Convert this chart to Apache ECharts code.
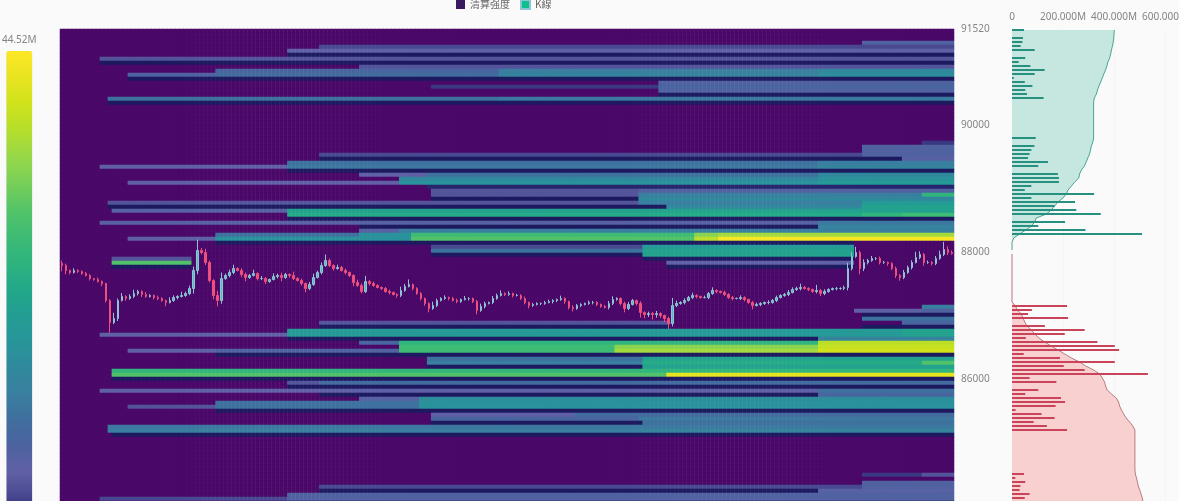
<!DOCTYPE html>
<html><head><meta charset="utf-8">
<style>html,body{margin:0;padding:0;background:#fafafa}#c{width:1179px;height:501px}</style>
<script src="https://cdn.jsdelivr.net/npm/echarts@6/dist/echarts.min.js"></script>
</head><body><div id="c"></div>
<script>
const closes=[87795,87717,87685,87717,87701,87669,87638,87590,87575,87543,
87512,87244,86898,86961,87244,87307,87276,87307,87354,87386,
87339,87307,87323,87291,87276,87244,87213,87244,87291,87307,
87323,87354,87433,87717,88032,88000,87843,87559,87323,87244,
87590,87638,87685,87748,87717,87654,87606,87638,87669,87590,
87590,87543,87575,87622,87638,87606,87654,87638,87590,87559,
87512,87433,87496,87606,87685,87795,87874,87795,87748,87764,
87717,87685,87638,87528,87480,87386,87543,87512,87480,87449,
87433,87386,87370,87339,87323,87402,87465,87496,87433,87354,
87276,87197,87118,87165,87244,87276,87291,87276,87244,87228,
87260,87276,87276,87228,87087,87150,87197,87213,87276,87323,
87354,87339,87354,87323,87323,87276,87213,87165,87181,87197,
87197,87213,87228,87244,87260,87276,87228,87134,87118,87165,
87181,87197,87213,87213,87181,87150,87134,87197,87260,87276,
87197,87118,87181,87244,87197,87055,87024,87039,87024,87039,
87008,86961,86882,87165,87197,87213,87244,87291,87323,87307,
87291,87291,87354,87402,87386,87370,87339,87291,87276,87276,
87291,87260,87213,87165,87181,87197,87213,87213,87244,87291,
87323,87339,87370,87417,87433,87449,87433,87417,87386,87402,
87354,87386,87417,87433,87433,87433,87449,87748,87937,88000,
87748,87843,87874,87906,87906,87843,87843,87827,87748,87638,
87606,87685,87764,87843,87921,87969,87843,87843,87827,87906,
87969,88047,88000,87985];
const firstOpen=87830;
const wickUp=[40,30,15,35,20,15,25,20,10,30,
15,10,20,90,30,55,20,35,60,25,
15,40,20,15,30,20,15,50,35,20,
60,30,45,60,170,40,60,30,20,75,
95,30,45,60,20,35,30,25,60,20,
40,25,15,50,30,45,25,20,60,25,
30,15,40,60,30,50,95,30,20,45,
25,30,15,20,45,35,90,25,30,20,
15,25,30,15,20,60,40,80,15,20,
25,15,20,60,30,20,35,15,25,30,
15,40,20,15,25,45,30,15,40,30,
50,20,35,15,25,20,30,15,25,20,
15,25,30,20,15,45,20,15,35,25,
20,15,30,25,20,15,25,40,50,20,
15,30,40,25,15,35,20,30,25,40,
20,15,30,120,45,20,35,25,45,20,
15,30,25,50,20,15,30,20,25,15,
35,20,15,25,30,20,15,35,25,30,
20,25,40,35,30,60,25,20,15,90,
25,35,20,15,25,20,30,90,70,90,
30,50,25,40,20,30,25,15,20,30,
20,40,30,35,90,50,25,30,20,40,
60,120,50,30];
const wickDown=[90,60,30,15,25,20,15,30,20,15,
40,30,160,25,40,15,35,20,25,30,
40,20,15,30,25,20,60,15,20,30,
15,20,25,80,60,30,40,30,60,90,
50,20,30,25,15,40,60,20,15,30,
25,40,20,15,30,60,20,35,25,15,
30,60,25,20,15,30,20,25,35,20,
15,30,25,60,20,30,25,35,20,15,
25,20,30,15,35,25,20,15,30,20,
30,35,60,20,25,15,20,30,15,25,
20,15,30,25,60,20,30,15,25,20,
15,25,20,30,15,25,30,45,20,15,
25,20,15,30,25,20,35,30,45,20,
25,15,20,30,25,20,15,30,25,20,
30,60,25,15,30,80,60,40,80,50,
40,60,90,45,25,20,30,15,25,30,
20,15,25,20,30,15,25,20,30,15,
25,30,20,60,15,25,20,30,20,25,
15,20,25,15,20,30,15,25,20,30,
40,25,20,15,30,20,25,45,30,20,
90,40,30,20,25,30,20,35,25,40,
50,25,20,30,15,25,50,20,30,25,
20,25,40,20];
const heatBands=[
[3,[201,9]],[4,[65,5]],[5,[57,7]],[6,[57,2.3]],[7,[10,6]],[8,[10,2.3]],[9,[75,6]],
[10,[39,10,110,14,190,16]],[11,[17,9,39,11,110,15,190,17]],[12,[17,2.3]],
[13,[150,9]],[14,[93,4,150,10]],[15,[150,9]],[16,[150,2.3]],[17,[12,12,110,13]],[18,[12,2.3]],
[28,[216,4]],[29,[201,9]],[30,[201,9]],[31,[65,5,201,9]],[32,[65,2.3,211,8]],
[33,[57,12,190,14]],[34,[10,7,57,13,190,15]],[35,[57,2.3]],[36,[75,7,92,12,190,16]],
[37,[85,16,190,18]],[38,[17,7,85,18,190,20]],[39,[92,3]],[40,[93,6,145,9]],
[41,[93,6,145,14,216,26]],[42,[93,2.3,145,16]],[43,[12,6,145,14,201,20]],
[44,[12,2.3,152,16,201,22]],[45,[13,8,57,22]],[46,[57,24,201,26,211,28]],[47,[57,2.3]],
[48,[10,8,190,13]],[49,[75,2.3,190,15]],[50,[75,8,85,14]],
[51,[39,12,75,18,88,28,159,34,165,36]],[52,[17,7,39,18,88,30,159,38,165,44]],
[53,[39,2.3,199,0]],[54,[93,5,146,20,199,0]],[55,[93,12,146,22,199,0]],[56,[93,2.3,146,22,199,0]],
[57,[13,6,33,0,146,2.3,199,0]],[58,[13,30,33,0,152,7,199,0]],[59,[13,2.3,33,0,152,2.3,199,0]],
[69,[216,14]],[70,[199,7,216,9]],[71,[201,2.3]],[72,[201,12]],[73,[65,6,153,0,211,10]],[74,[65,2.3,153,0,201,2.3]],
[75,[57,20,211,22]],[76,[10,7,57,20,211,22]],[77,[57,2.3,190,15]],[78,[75,10,85,26,190,38]],
[79,[85,28,139,34,190,39]],[80,[17,7,39,9,85,28,139,36,190,40]],[81,[39,2.3]],
[82,[92,12,146,22]],[83,[92,14,146,24,216,30]],[84,[92,2.3,146,22]],[85,[13,26]],[86,[13,30,152,42]],[87,[13,2.3]],
[88,[57,6,65,11]],[89,[57,2.3]],[90,[10,7,190,12]],[91,[65,2.3,190,10]],[92,[75,8,90,17]],
[93,[39,12,90,18]],[94,[17,6,39,12,90,18]],[95,[39,2.3]],[96,[93,7,129,11]],[97,[93,10,145,13]],
[98,[93,2.3,146,12]],[99,[12,13]],[100,[12,14,145,15]],[101,[13,2.3]],
[111,[201,4,216,6]],[113,[201,9]],[114,[65,5,201,9]],[115,[65,2.3,190,8]],[116,[57,9]],[117,[10,5,57,9]],[118,[57,2.3]]];
const greenBars=[47,null,43,41,34,89,null,52,26,72,128,89,7,50,80,52,59,124,null,null,null,null,null,null,null,null,null,93,null,88,76,69,63,141,103,null,180,184,184,76,50,322,76,247,167,252,348,null,208,103,288,510];
const greenLine=[401,400,399,397,394,390,387,383,376,372,367,360,354,348,341,335,331,323,320,320,320,320,320,320,320,320,320,320,317,311,308,304,297,291,284,272,265,262,246,233,220,213,200,180,167,154,135,95,89,76,54,30,7,0,0,0];
const redBarRows=[69,70,71,72,74,75,76,77,78,79,80,81,82,83,84,85,86,87,88,90,91,92,93,94,95,96,97,98,99,100,111,112,113,114,115,116,117];
const redBarValues=[216,78,63,220,129,285,207,54,335,403,420,46,188,403,203,285,533,69,174,103,52,192,208,171,14,116,167,85,137,216,47,13,52,33,30,69,50];
const redLineStart=56;
const redLine=[0,0,0,0,0,0,0,0,0,0,0,0,0,14,20,37,43,50,59,76,89,106,128,154,180,207,233,265,289,320,344,354,363,367,373,390,409,418,422,429,438,448,461,474,482,482,482,482,482,482,482,482,482,482,482,484,488,492,495,501,506,511,514];
const yTicks=[91520,90000,88000,86000];
const xTicks=[0,200,400,600];
const colorScale=['#4a0868','#1c1a60','#45458e','#6060a6','#4d629f','#3f6f9e','#3a7fa0','#2f8a9c','#28959a','#239e92','#22a888','#2fb47e','#3fbc74','#55c468','#78cf58','#98d848','#b5de2b','#cfe21c','#e8e420','#fde725'];
const maxValue=44.52, rowCount=119, colCount=closes.length;

const rows=[...Array(rowCount).keys()].map(String);
const cols=closes.map((_,i)=>String(i));
const cell=[...Array(rowCount)].map(()=>new Array(colCount).fill(0));
heatBands.forEach(([r,seg])=>{for(let k=0;k<seg.length;k+=2){const end=k+2<seg.length?seg[k+2]:colCount;for(let c=seg[k];c<end;c++)cell[r][c]=seg[k+1];}});
const heat=[];cell.forEach((row,r)=>row.forEach((v,c)=>heat.push([c,r,v])));
const candles=closes.map((c,i)=>{const o=i?closes[i-1]:firstOpen;return [o,c,Math.min(o,c)-wickDown[i],Math.max(o,c)+wickUp[i]];});
const gb=new Array(rowCount).fill(null),gl=new Array(rowCount).fill(null),rb=new Array(rowCount).fill(null),rl=new Array(rowCount).fill(null);
greenBars.forEach((v,i)=>gb[i]=v);greenLine.forEach((v,i)=>gl[i]=v);
redBarRows.forEach((r,i)=>rb[r]=redBarValues[i]);redLine.forEach((v,i)=>rl[redLineStart+i]=v);

const fmt=v=>v===0?'0':v.toFixed(3)+'M';
const labelColor='#858585', font='"Noto Sans",sans-serif';
const chart=echarts.init(document.getElementById('c'),null,{renderer:'canvas'});
chart.setOption({
 animation:false,backgroundColor:'#fafafa',
 legend:{top:-6,left:451,itemWidth:9,itemHeight:9,itemGap:10,icon:'rect',
  textStyle:{color:'#666',fontSize:10,fontFamily:'"Noto Sans CJK SC",sans-serif'},
  data:[{name:'清算强度',itemStyle:{color:'#3a1a60'}},{name:'K線',itemStyle:{color:'#0fc08f'}}]},
 grid:[{left:60,top:29,width:894,height:476,outerBoundsMode:'none'},{left:1012,top:28,width:153,height:476,outerBoundsMode:'none'}],
 visualMap:{type:'continuous',min:0,max:maxValue,seriesIndex:0,left:-13,top:20,itemWidth:26,itemHeight:500,
  calculable:false,text:['44.52M',''],textGap:6,textStyle:{color:labelColor,fontSize:10,fontFamily:font},
  inRange:{color:colorScale}},
 xAxis:[
  {type:'category',gridIndex:0,data:cols,show:false},
  {type:'value',gridIndex:1,position:'top',min:0,max:600,interval:200,
   axisLine:{show:false},axisTick:{show:false},splitLine:{show:true,lineStyle:{color:'#f5f5f5'}},
   axisLabel:{margin:6,color:labelColor,fontSize:10,fontFamily:font,customValues:xTicks,hideOverlap:false,formatter:fmt}}
 ],
 yAxis:[
  {type:'category',gridIndex:0,data:rows,inverse:true,show:false},
  {type:'value',gridIndex:0,position:'right',min:84024,max:91520,
   axisLine:{show:false},axisTick:{show:false},splitLine:{show:false},
   axisLabel:{margin:7,color:labelColor,fontSize:10,fontFamily:font,customValues:yTicks,showMinLabel:true,showMaxLabel:true,formatter:v=>String(v)}},
  {type:'category',gridIndex:1,data:rows,inverse:true,show:false}
 ],
 series:[
  {name:'清算强度',type:'heatmap',xAxisIndex:0,yAxisIndex:0,data:heat,progressive:0,z:1,emphasis:{disabled:true}},
  {name:'K線',type:'candlestick',xAxisIndex:0,yAxisIndex:1,data:candles,barWidth:2,z:3,
   itemStyle:{color:'#56bcc0',color0:'#ee4f7c',borderColor:'#8fc4d4',borderColor0:'#ee4f7c',borderWidth:1}},
  {type:'line',xAxisIndex:1,yAxisIndex:2,data:gl.map((v,i)=>[v,i]),showSymbol:false,z:2,
   lineStyle:{color:'#4aa596',width:1},areaStyle:{color:'#c6e7df',opacity:1}},
  {type:'line',xAxisIndex:1,yAxisIndex:2,data:rl.map((v,i)=>[v,i]),showSymbol:false,z:2,
   lineStyle:{color:'#b87c80',width:1},areaStyle:{color:'#f9d0d0',opacity:1}},
  {type:'bar',xAxisIndex:1,yAxisIndex:2,data:gb,barWidth:2,z:3,itemStyle:{color:'#27907f'}},
  {type:'bar',xAxisIndex:1,yAxisIndex:2,data:rb,barWidth:2,z:3,barGap:'-100%',itemStyle:{color:'#c9445a'}}
 ]
});
</script></body></html>
